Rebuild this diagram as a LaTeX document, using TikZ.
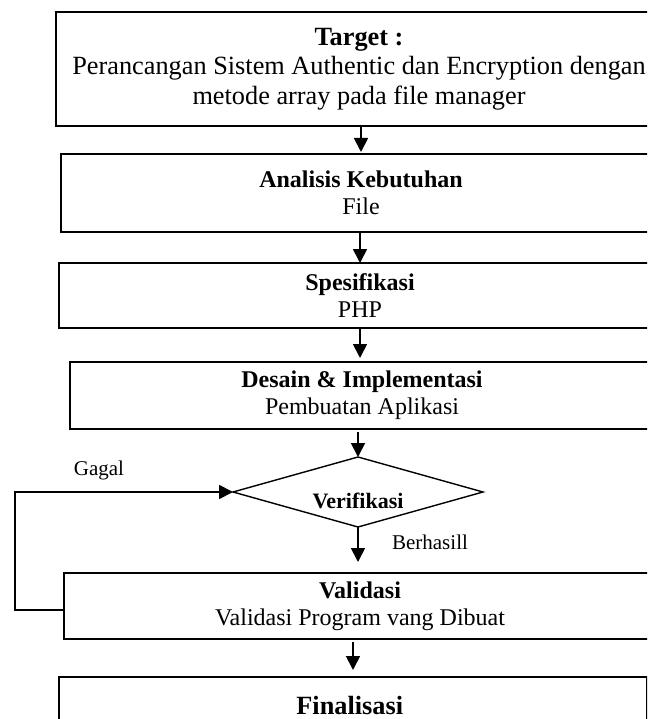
\documentclass[tikz,border=0pt]{standalone}
\usepackage{fontspec}
\setmainfont{Liberation Serif}
\usetikzlibrary{shapes.geometric,arrows.meta}

\begin{document}
\begin{tikzpicture}[x=1pt,y=-1pt,
  kotak/.style={draw,line width=1.6pt,rectangle,inner sep=0pt,outer sep=0pt,align=center,font=\fontsize{24}{27}\selectfont},
  kotakbesar/.style={kotak,font=\fontsize{26.3}{29.5}\selectfont},
  panah/.style={line width=1.8pt,-{Triangle[length=14pt,width=14pt]}},
  ket/.style={font=\fontsize{21}{24}\selectfont}]
\useasboundingbox (0,0) rectangle (647,719);
\clip (0,0) rectangle (647,719);
\foreach \n/\x/\w/\h/\g/\t in{
target/{(359,69)}/606/114/kotakbesar/{\textbf{Target :}\\Perancangan Sistem Authentic dan Encryption dengan\\metode array pada file manager},
analisis/{(361,193)}/600/78/kotak/{\textbf{Analisis Kebutuhan}\\File},
spesifikasi/{(360,295.5)}/602/65/kotak/{\textbf{Spesifikasi}\\PHP},
desain/{(362,395.5)}/584/67/kotak/{\textbf{Desain \& Implementasi}\\Pembuatan Aplikasi},
validasi/{(360,606)}/592/66/kotak/{\textbf{Validasi}\\Validasi Program vang Dibuat},
finalisasi/{(353,705)}/588/56/kotakbesar/{\textbf{Finalisasi}}
}
{
        \node[\g,minimum width=\w pt,minimum height=\h pt] (\n) at \x {\t};
    }
\node[diamond,draw,line width=1.4pt,inner sep=0pt,outer sep=0pt,minimum width=250pt,minimum height=70pt] (verifikasi) at (358,492) {};
\node[font=\fontsize{22}{24}\selectfont\bfseries] (verifikasiteks) at ([yshift=-9pt]verifikasi.center) {Verifikasi};
\node[ket] (gagal) at (99,470) {Gagal};
\node[ket] (berhasil) at (430,542) {Berhasill};
\coordinate (balik) at (15,492);
\draw[panah,shorten >=2pt] (target.south -| analisis) -- (analisis.north);
\draw[panah] (analisis.south -| spesifikasi) -- (spesifikasi.north);
\draw[panah,shorten >=4pt] (spesifikasi.south) -- (spesifikasi.south |- desain.north);
\draw[panah,shorten <=3pt] (desain.south -| verifikasi) -- (verifikasi.north);
\draw[panah,shorten >=11pt] (verifikasi.south) -- (verifikasi.south |- validasi.north);
\draw[panah,shorten <=3pt,shorten >=7pt] (validasi.south -| finalisasi) -- (finalisasi.north);
\draw[panah] ([yshift=-4pt]validasi.west) -| (balik) -- (verifikasi.west);
\end{tikzpicture}
\end{document}
